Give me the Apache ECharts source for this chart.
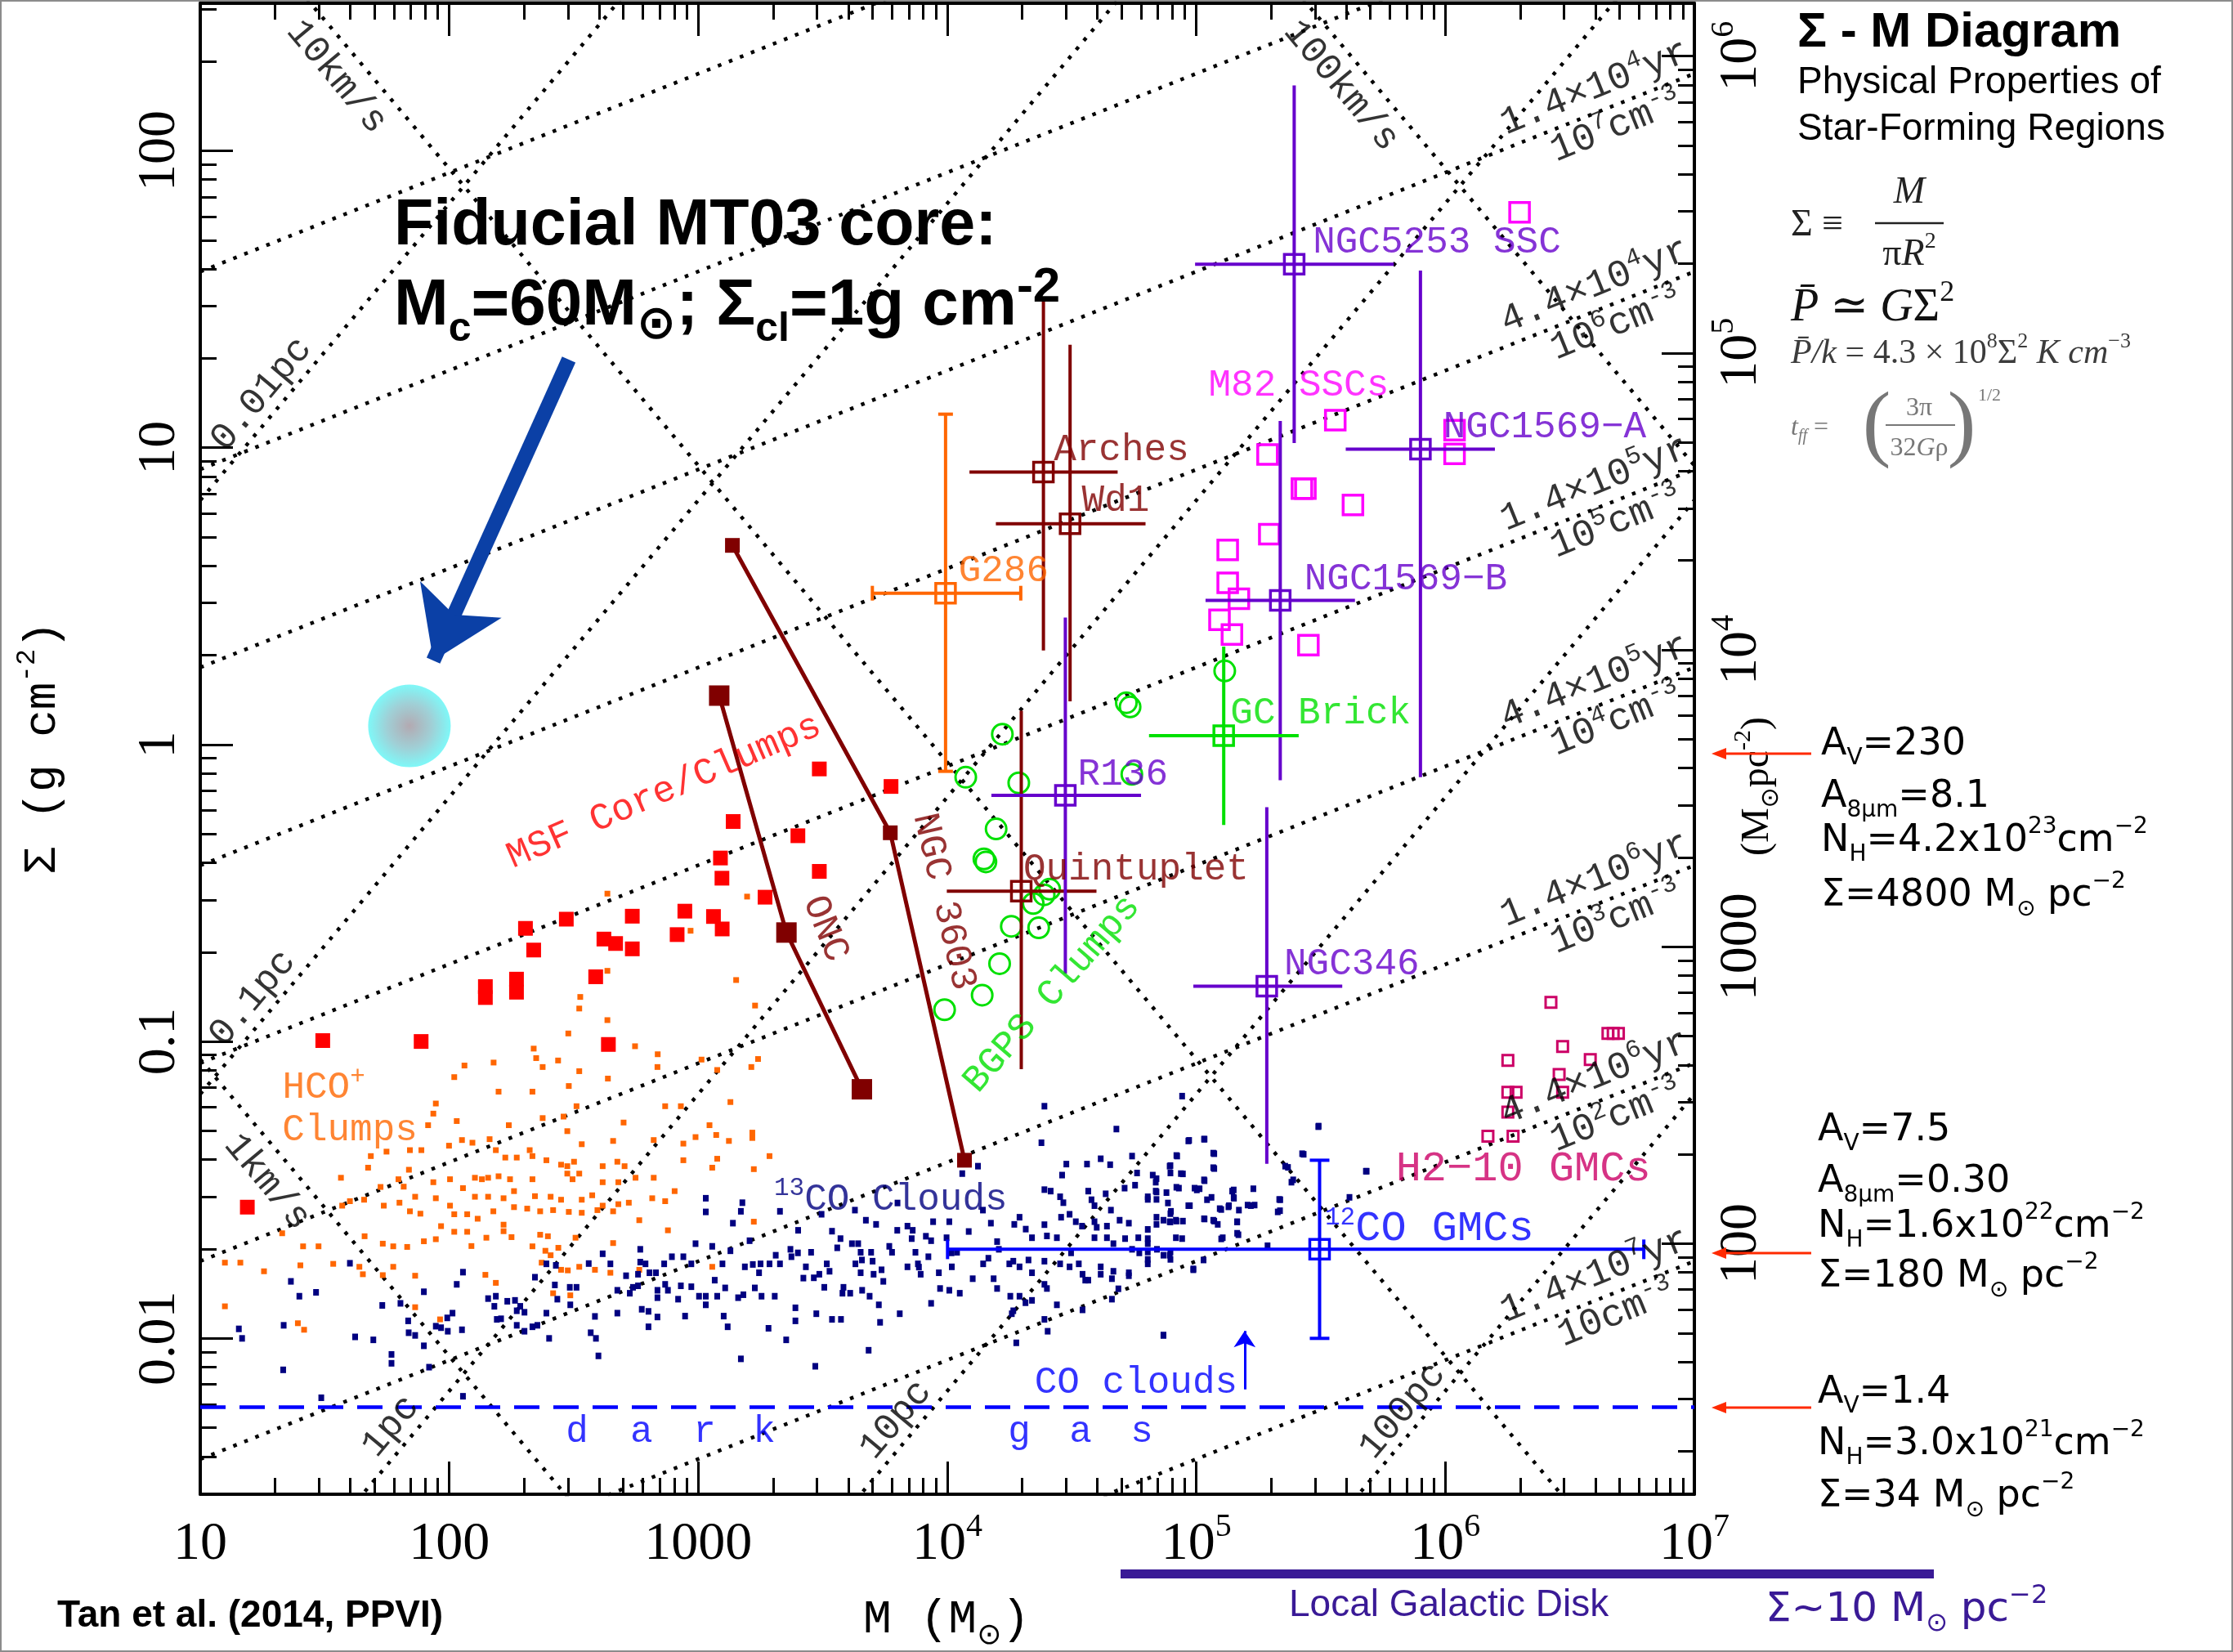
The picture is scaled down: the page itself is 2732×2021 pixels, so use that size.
<!DOCTYPE html>
<html>
<head>
<meta charset="utf-8">
<title>Sigma - M Diagram</title>
<script src="https://cdn.jsdelivr.net/npm/echarts@6.0.0/dist/echarts.min.js"></script>
<style>
  html, body { margin: 0; padding: 0; background: #fff; }
  #chart { width: 2732px; height: 2021px; }
</style>
</head>
<body>
<div id="chart"></div>
<script>
// every position is in log10 units:  x = log10(M / Msun),  y = log10(Sigma / g cm^-2)

// ---------- axes ----------
const massTicks = [1, 2, 3, 4, 5, 6, 7];
const massTickLabels = ['10', '100', '1000', '10{s|4}', '10{s|5}', '10{s|6}', '10{s|7}'];
const sigmaTicks = [-2, -1, 0, 1, 2];
const sigmaTickLabels = ['0.01', '0.1', '1', '10', '100'];
const surfTicks = [2, 3, 4, 5, 6];                 // log10(Msun pc^-2)
const surfTickLabels = ['100', '1000', '10{s|4}', '10{s|5}', '10{s|6}'];
const logMsunPc2PerGcm2 = 3.681;                   // 1 g cm^-2 = 4800 Msun pc^-2
const xRange = [1, 7];
const yRange = [-2.525, 2.497];

// ---------- dotted guide lines (end points) ----------
const radiusLines = [
  [[1, 0.823], [3.7, 3.523]], [[1, -1.177], [4.7, 2.523]], [[1.6, -2.577], [7, 2.823]],
  [[3.6, -2.577], [7, 0.823]], [[5.6, -2.577], [7, -1.177]]
];
const velocityLines = [
  [[1, -1.06], [2.6, -2.66]], [[1, 2.94], [6.6, -2.66]], [[5, 2.94], [7, 0.94]]
];
const densityLines = [   // n_H = 1e9 ... 10 cm^-3
  [[1, 1.593], [4, 2.593]], [[1, 0.927], [7, 2.927]],
  [[1, 0.260], [7, 2.260]], [[1, -0.407], [7, 1.593]], [[1, -1.073], [7, 0.927]],
  [[1, -1.740], [7, 0.260]], [[1, -2.407], [7, -0.407]], [[1, -3.073], [7, -1.073]],
  [[1, -3.740], [7, -1.740]]
];
const radiusNames = ['0.01pc', '0.1pc', '1pc', '10pc', '100pc'];
const velocityNames = ['1km/s', '10km/s', '100km/s'];
const freefallNames = ['1.4×10{s|4}yr', '4.4×10{s|4}yr', '1.4×10{s|5}yr', '4.4×10{s|5}yr', '1.4×10{s|6}yr', '4.4×10{s|6}yr', '1.4×10{s|7}yr'];
const densityNames = ['10{s|7}cm{s|-3}', '10{s|6}cm{s|-3}', '10{s|5}cm{s|-3}', '10{s|4}cm{s|-3}', '10{s|3}cm{s|-3}', '10{s|2}cm{s|-3}', '10cm{s|-3}'];
const darkGasLevel = -2.23;

// ---------- point samples ----------
const msfClumps = [
  [3.140,-0.259],[3.089,-0.382],[3.095,-0.450],[3.268,-0.514],[2.470,-0.588],[2.306,-0.619],[2.735,-0.578],
  [2.946,-0.561],[3.061,-0.579],[3.096,-0.621],[2.915,-0.640],[2.621,-0.655],[2.668,-0.670],[2.735,-0.688],
  [2.339,-0.692],[2.588,-0.782],[2.270,-0.790],[2.145,-0.815],[2.145,-0.852],[2.270,-0.834],[2.639,-1.010],
  [1.492,-0.997],[1.887,-1.000],[1.189,-1.558],[3.486,-0.082],[3.774,-0.141],[3.400,-0.307],[3.486,-0.427]
];
const hcoClumps = [
  [2.635,-0.502],[3.196,-0.512],[2.969,-0.627],[2.635,-0.762],[3.152,-0.793],[2.526,-0.850],[2.522,-0.889],
  [2.635,-0.928],[3.228,-0.879],[2.478,-0.973],[2.339,-1.024],[2.746,-1.016],[2.837,-1.043],[2.349,-1.056],
  [2.437,-1.064],[3.013,-1.061],[2.178,-1.071],[3.240,-1.059],
  [2.061,-1.081],[2.375,-1.086],[2.522,-1.100],[2.637,-1.125],[2.836,-1.086],[3.076,-1.096],[3.213,-1.086],
  [2.020,-1.120],[2.480,-1.150],[2.198,-1.169],[2.334,-1.169],[1.946,-1.209],[2.867,-1.218],[2.930,-1.218],
  [3.129,-1.204],[2.511,-1.218],[2.375,-1.258],[2.459,-1.253],[1.936,-1.243],[2.239,-1.282],[2.030,-1.268],
  [1.915,-1.282],[2.700,-1.273],[3.045,-1.282],[2.474,-1.302],[2.658,-1.335],[2.532,-1.346],[2.821,-1.332],
  [2.940,-1.344],[2.989,-1.322],[3.072,-1.315],[3.123,-1.335],[3.217,-1.307],[3.217,-1.325],[1.748,-1.371],
  [1.685,-1.386],[1.842,-1.366],[1.888,-1.366],[1.999,-1.351],[2.051,-1.332],[2.093,-1.341],[2.162,-1.329],
  [2.187,-1.366],[2.225,-1.391],[2.271,-1.391],[2.323,-1.366],[2.334,-1.386],[2.390,-1.400],[2.449,-1.415],
  [2.474,-1.420],[2.501,-1.405],[2.616,-1.420],[2.675,-1.405],[2.704,-1.420],[2.940,-1.400],[3.076,-1.395],
  [3.286,-1.386],[1.565,-1.459],[1.674,-1.425],[1.724,-1.490],[1.796,-1.464],[1.817,-1.489],[1.838,-1.432],
  [1.936,-1.474],[2.003,-1.464],[2.055,-1.494],[2.103,-1.459],[2.131,-1.464],[2.156,-1.459],[2.198,-1.454],
  [2.244,-1.464],[2.334,-1.464],[2.474,-1.445],[2.495,-1.464],[2.522,-1.445],[2.616,-1.474],[2.679,-1.474],
  [2.748,-1.459],[2.821,-1.459],[2.905,-1.504],[3.056,-1.425],[3.223,-1.430],[1.601,-1.538],[1.658,-1.533],
  [1.737,-1.553],[1.800,-1.543],[1.863,-1.523],[1.946,-1.528],[2.003,-1.553],[2.103,-1.523],[2.156,-1.523],
  [2.218,-1.528],[2.260,-1.504],[2.344,-1.521],[2.407,-1.523],[2.449,-1.533],[2.532,-1.533],[2.574,-1.518],
  [2.616,-1.553],[2.679,-1.548],[2.721,-1.543],[2.815,-1.528],[2.867,-1.538],[1.570,-1.553],[1.842,-1.572],
  [1.884,-1.580],[2.020,-1.582],[2.072,-1.582],[2.114,-1.597],[2.177,-1.572],[2.218,-1.617],[2.260,-1.558],
  [2.313,-1.563],[2.365,-1.572],[2.417,-1.568],[2.480,-1.574],[2.532,-1.577],[2.595,-1.568],[2.658,-1.572],
  [2.763,-1.602],[2.878,-1.636],[3.223,-1.607],[1.329,-1.646],[1.413,-1.690],[1.475,-1.690],[1.660,-1.656],
  [1.733,-1.681],[1.775,-1.690],[1.831,-1.692],[1.898,-1.673],[1.946,-1.666],[1.967,-1.622],[2.020,-1.641],
  [2.072,-1.641],[2.089,-1.689],[2.149,-1.661],[2.218,-1.639],[2.250,-1.659],[2.365,-1.651],[2.396,-1.656],
  [2.334,-1.690],[2.386,-1.705],[2.407,-1.720],[2.438,-1.695],[2.507,-1.661],[2.658,-1.679],[1.099,-1.745],
  [1.161,-1.745],[1.256,-1.774],[1.402,-1.754],[1.534,-1.749],[1.639,-1.759],[1.653,-1.784],[1.733,-1.787],
  [1.775,-1.759],[1.863,-1.789],[2.145,-1.786],[2.187,-1.813],[2.371,-1.745],[2.449,-1.769],[2.476,-1.771],
  [2.522,-1.759],[2.585,-1.769],[2.647,-1.779],[2.417,-1.848],[2.486,-1.855],[2.763,-1.769],[3.056,-1.759],
  [1.863,-1.895],[1.099,-1.892],[1.392,-1.949],[1.417,-1.971],[1.963,-1.936]
];
const co13Clouds = [
  [1.601,-1.747],[1.364,-1.808],[1.398,-1.858],[1.465,-1.845],[1.155,-1.968],[1.168,-2.000],[1.335,-1.956],
  [1.333,-2.106],[1.486,-2.200],[1.622,-1.995],[1.695,-2.005],[1.768,-2.054],[1.768,-2.084],[1.731,-1.889],
  [1.804,-1.882],[1.835,-1.941],[1.837,-1.981],[1.863,-1.990],[1.898,-2.025],[1.898,-1.843],[1.946,-1.959],
  [1.967,-1.964],[1.992,-1.931],[2.013,-1.915],[1.994,-1.976],[2.051,-1.971],[2.055,-1.777],[2.030,-1.818],
  [1.919,-2.097],[2.055,-2.195],[2.156,-1.866],[2.181,-1.892],[2.187,-1.858],[2.191,-1.936],[2.208,-1.934],
  [2.233,-1.875],[2.264,-1.872],[2.271,-1.956],[2.271,-1.907],[2.285,-1.892],[2.302,-1.976],[2.302,-1.912],
  [2.334,-1.961],[2.354,-1.956],[2.390,-1.915],[2.401,-2.000],[2.344,-1.794],[2.390,-1.749],[2.428,-1.754],
  [2.424,-1.820],[2.434,-1.868],[2.484,-1.828],[2.486,-1.887],[2.511,-1.828],[2.560,-1.748],[2.568,-1.981],
  [2.589,-2.000],[2.599,-2.059],[2.585,-1.926],[2.616,-1.715],[2.647,-1.749],[2.675,-1.838],[2.675,-1.915],
  [2.710,-1.789],[2.725,-1.848],[2.738,-1.828],[2.758,-1.823],[2.758,-1.784],[2.767,-1.743],[2.767,-1.700],
  [2.773,-1.902],[2.788,-1.749],[2.800,-1.909],[2.800,-1.961],[2.804,-1.779],[2.830,-1.779],[2.836,-1.838],
  [2.836,-1.863],[2.836,-1.928],[2.863,-1.749],[2.867,-1.818],[2.878,-1.838],[2.894,-1.725],[2.919,-1.868],
  [2.930,-1.823],[2.940,-1.725],[2.947,-1.925],[2.972,-1.826],[2.989,-1.681],[2.972,-1.749],[3.003,-1.858],
  [3.030,-1.858],[3.030,-1.887],[3.030,-1.574],[3.030,-1.528],[3.056,-1.690],[3.066,-1.804],[3.076,-1.858],
  [3.097,-1.749],[3.102,-1.925],[3.108,-1.830],[3.118,-1.961],[3.129,-1.705],[3.139,-1.612],[3.160,-1.863],
  [3.171,-1.572],[3.171,-2.069],[3.177,-1.543],[3.181,-1.853],[3.187,-1.759],[3.206,-1.671],[3.219,-1.751],
  [3.227,-1.830],[3.244,-1.779],[3.250,-1.749],[3.254,-1.858],[3.282,-1.966],[3.286,-1.749],[3.307,-1.858],
  [3.311,-1.720],[3.328,-1.749],[3.328,-1.572],[3.353,-2.005],[3.370,-1.700],[3.374,-1.725],[3.390,-1.897],
  [3.401,-1.636],[3.390,-1.941],[3.422,-1.797],[3.432,-1.759],[3.453,-1.710],[3.464,-1.796],[3.474,-1.917],
  [3.470,-2.094],[3.495,-1.582],[3.506,-1.828],[3.516,-1.749],[3.527,-1.774],[3.537,-1.639],[3.537,-1.936],
  [3.558,-1.695],[3.573,-1.936],[3.579,-1.848],[3.583,-1.828],[3.610,-1.848],[3.617,-1.681],[3.631,-1.749],
  [3.642,-1.681],[3.652,-1.710],[3.652,-1.779],[3.658,-1.838],[3.673,-1.602],[3.684,-2.040],[3.688,-1.858],
  [3.694,-1.710],[3.700,-1.740],[3.704,-1.784],[3.725,-1.887],[3.730,-1.946],[3.736,-1.769],[3.767,-1.690],
  [3.778,-1.710],[3.799,-1.636],[3.809,-1.917],[3.840,-1.622],[3.840,-1.759],[3.861,-1.636],[3.872,-1.710],
  [3.882,-1.749],[3.893,-1.784],[3.914,-1.656],[3.924,-1.725],[3.935,-1.882],[3.935,-1.671],[3.966,-1.779],
  [3.997,-1.661],[4.008,-1.607],[4.008,-1.838],[4.018,-1.759],[4.039,-1.710],[4.050,-1.848],[4.060,-1.445],
  [4.102,-1.799],[4.123,-1.420],[4.144,-1.749],[4.165,-1.730],[4.175,-1.612],[4.186,-1.799],[4.207,-1.700],
  [4.249,-1.749],[4.253,-1.858],[4.259,-1.917],
  [4.943,-1.184],[4.390,-1.218],[4.679,-1.295],[4.378,-1.341],[4.968,-1.335],[5.031,-1.329],[5.490,-1.287],
  [5.425,-1.378],[5.684,-1.437],[4.478,-1.413],[4.561,-1.413],[4.616,-1.395],[4.654,-1.415],[4.742,-1.386],
  [4.762,-1.443],[4.825,-1.450],[4.893,-1.420],[4.923,-1.386],[4.938,-1.445],[5.068,-1.376],[5.068,-1.425],
  [5.031,-1.466],[4.461,-1.450],[4.390,-1.499],[4.415,-1.504],[4.453,-1.523],[4.466,-1.543],[4.566,-1.504],
  [4.579,-1.533],[4.591,-1.553],[4.636,-1.513],[4.712,-1.494],[4.754,-1.484],[4.805,-1.523],[4.837,-1.474],
  [4.837,-1.504],[4.880,-1.509],[4.898,-1.572],[4.918,-1.602],[4.930,-1.494],[4.968,-1.553],[4.993,-1.494],
  [5.043,-1.533],[5.094,-1.563],[5.144,-1.504],[5.151,-1.528],[5.131,-1.553],[5.219,-1.553],[5.337,-1.533],
  [5.327,-1.574],[5.357,-1.420],[5.382,-1.474],[4.491,-1.582],[4.516,-1.607],[4.541,-1.622],[4.591,-1.607],
  [4.641,-1.622],[4.692,-1.602],[4.729,-1.612],[4.767,-1.661],[4.805,-1.681],[4.868,-1.602],[4.893,-1.607],
  [4.918,-1.661],[5.031,-1.597],[5.068,-1.602],[5.106,-1.661],[5.169,-1.651],[5.164,-1.607],[4.290,-1.592],
  [4.315,-1.632],[4.340,-1.661],[4.390,-1.617],[4.440,-1.661],[4.591,-1.661],[4.641,-1.661],[4.667,-1.681],
  [4.742,-1.700],[4.842,-1.700],[4.893,-1.720],[4.265,-1.740],[4.290,-1.759],[4.340,-1.779],[4.390,-1.740],
  [4.453,-1.749],[4.491,-1.759],[4.528,-1.749],[4.616,-1.759],[4.667,-1.774],[4.729,-1.779],[4.805,-1.749],
  [4.868,-1.720],[4.390,-1.818],[4.566,-1.804],[4.616,-1.784],[4.661,-1.799],[4.729,-1.789],[4.290,-1.858],
  [4.265,-1.907],[4.340,-1.872],[4.440,-1.887],[4.390,-1.936],[4.403,-1.976],[4.554,-1.804],[4.661,-1.868],
  [4.687,-1.833],[4.868,-1.990],[4.988,-1.769],[4.277,-2.015],
  [4.971,-1.333],[5.033,-1.329],[5.072,-1.378],[4.920,-1.384],[4.896,-1.418],[4.896,-1.443],[4.946,-1.446],
  [4.840,-1.462],[5.072,-1.428],[4.805,-1.532],[4.840,-1.507],[4.840,-1.532],[4.920,-1.491],[5.002,-1.500],
  [5.013,-1.496],[5.033,-1.469],[4.974,-1.553],[5.061,-1.525],[5.100,-1.566],[5.129,-1.557],[5.150,-1.500],
  [5.150,-1.525],[5.164,-1.608],[5.206,-1.551],[5.234,-1.551],[5.333,-1.532],[5.336,-1.570],[5.431,-1.380],
  [5.368,-1.424],[5.389,-1.466],[5.491,-1.285],[5.681,-1.437],[5.615,-1.525],[4.805,-1.633],[4.805,-1.664],
  [4.840,-1.592],[4.896,-1.580],[4.896,-1.608],[4.920,-1.605],[4.946,-1.605],[5.033,-1.598],[5.072,-1.605],
  [5.100,-1.665],[5.164,-1.646],[4.805,-1.734],[4.805,-1.709],[4.896,-1.709],[4.896,-1.734],[4.988,-1.766],
  [4.868,-1.989],
  [3.629,-1.568],[3.714,-1.616],[3.800,-1.544],[3.857,-1.664],[3.943,-1.607],[4.017,-1.712],[4.086,-1.640],
  [4.143,-1.568],[4.200,-1.674],[4.269,-1.616],[4.326,-1.736],[4.400,-1.655],[4.457,-1.592],[4.497,-1.712],
  [4.543,-1.784],[4.600,-1.626],[4.657,-1.568],[4.714,-1.664],[4.771,-1.712],[4.840,-1.616],[4.886,-1.544],
  [4.943,-1.664],[5.029,-1.736],[5.086,-1.616],[5.171,-1.568],[5.229,-1.496],[5.286,-1.688],[3.400,-1.712],
  [3.486,-1.784],[3.571,-1.664],[3.657,-1.736],[3.743,-1.808],[3.886,-1.760],[3.971,-1.832],[4.200,-1.832],
  [4.314,-1.880],[4.400,-1.832],[4.543,-1.904]
];
const bgpsClumps = [
  [5.114,0.248],[4.719,0.141],[4.734,0.127],[4.221,0.035],[4.074,-0.110],[4.287,-0.129],[4.741,-0.100],
  [4.196,-0.284],[4.147,-0.385],[4.155,-0.395],[4.411,-0.487],[4.389,-0.506],[4.345,-0.535],[4.257,-0.612],
  [4.367,-0.617],[4.210,-0.738],[4.140,-0.844],[3.989,-0.893]
];
const m82Sscs = [
  [6.298,1.793],[5.558,1.093],[5.286,0.977],[6.037,0.979],[6.037,1.059],[5.424,0.862],[5.438,0.862],
  [5.629,0.807],[5.293,0.709],[5.126,0.656],[5.126,0.545],[5.171,0.491],[5.093,0.420],[5.143,0.371],[5.450,0.335]
];
const h210Gmcs = [
  [6.424,-0.868],[6.251,-1.064],[6.471,-1.017],[6.582,-1.061],[6.457,-1.111],[6.471,-1.171],[6.251,-1.171],
  [6.284,-1.171],[6.251,-1.238],[6.171,-1.319],[6.272,-1.319],[6.653,-0.973],[6.674,-0.973],[6.695,-0.973]
];
const oncTrack = [[3.084, 0.165], [3.354, -0.633], [3.657, -1.161]];
const ngc3603Track = [[3.137, 0.671], [3.771, -0.297], [4.069, -1.400]];
const fiducialCore = [[1.840, 0.063]];

// ---------- objects with ranges: [x, y, xLow, xHigh, yLow, yHigh] ----------
const youngClusters = [   // Arches, Wd1, Quintuplet
  [4.386, 0.918, 4.089, 4.684, 0.317, 1.503],
  [4.493, 0.744, 4.195, 4.796, 0.146, 1.347],
  [4.297, -0.494, 3.998, 4.599, -1.093, 0.114]
];
const g286 = [[3.993, 0.510, 3.699, 4.295, -0.090, 1.113]];
const extragalactic = [   // NGC5253 SSC, NGC1569-A, NGC1569-B, R136, NGC346
  [5.393, 1.618, 4.995, 5.793, 1.016, 2.220],
  [5.900, 0.995, 5.600, 6.199, -0.110, 1.597],
  [5.337, 0.486, 5.037, 5.637, -0.120, 1.090],
  [4.474, -0.171, 4.177, 4.778, -0.772, 0.428],
  [5.283, -0.814, 4.988, 5.586, -1.412, -0.211]
];
const gcBrick = [[5.110, 0.030, 4.810, 5.411, -0.271, 0.330]];
const co12Gmcs = [[5.495, -1.700, 4.001, 6.797, -2.000, -1.400]];

// ---------- styling ----------
const MONO = '"Liberation Mono", "DejaVu Sans Mono", monospace';
const SERIF = '"Liberation Serif", "DejaVu Serif", serif';
const SANS = '"Liberation Sans", Arial, sans-serif';
const DJV = '"DejaVu Sans", sans-serif';
const C = {
  msf: '#ff0000', hco: '#ff6600', co13: '#000080', dred: '#800000', purple: '#6600cc',
  magenta: '#ff00ff', h210: '#cc0066', green: '#00e000', blue: '#0000ff', arrow: '#0b40a6', disk: '#3a1a96'
};
const G = { left: 245, top: 4, width: 1828, height: 1824 };

function minorTicks(lo, hi, shift) {
  const out = [];
  for (let d = Math.floor(lo - shift) - 1; d <= Math.ceil(hi - shift); d++) {
    for (let k = 2; k <= 9; k++) {
      const v = d + Math.log10(k) + shift;
      if (v > lo && v < hi) out.push(v);
    }
  }
  return out;
}

const tickLine = { color: '#000', width: 3 };
function axisPart(dim, position, values, len, withLine, label) {
  const range = dim === 'x' ? xRange : yRange;
  return {
    type: 'value', position: position, min: range[0], max: range[1],
    splitLine: { show: false },
    axisLine: { show: withLine, onZero: false, lineStyle: { color: '#000', width: 4 } },
    axisTick: { show: true, inside: true, length: len, customValues: values, lineStyle: tickLine },
    axisLabel: label || { show: false }
  };
}
const supRich = { s: { fontSize: 40, fontFamily: SERIF, verticalAlign: 'top', lineHeight: 44 } };
const xLabel = {
  show: true, customValues: massTicks, margin: 20, fontSize: 66, fontFamily: SERIF, color: '#000', lineHeight: 84,
  rich: supRich, formatter: v => massTickLabels[massTicks.indexOf(Math.round(v))]
};
const yLabel = {
  show: true, customValues: sigmaTicks, margin: 16, rotate: 90, fontSize: 66, fontFamily: SERIF, color: '#000',
  formatter: v => sigmaTickLabels[sigmaTicks.indexOf(Math.round(v))]
};
const surfMajor = surfTicks.map(e => e - logMsunPc2PerGcm2);
const rLabel = {
  show: true, customValues: surfMajor, margin: 16, rotate: 90, fontSize: 66, fontFamily: SERIF, color: '#000',
  lineHeight: 84, rich: supRich,
  formatter: v => surfTickLabels[surfTicks.indexOf(Math.round(v + logMsunPc2PerGcm2))]
};
const minorX = minorTicks(xRange[0], xRange[1], 0);
const minorY = minorTicks(yRange[0], yRange[1], 0);
const minorR = minorTicks(yRange[0], yRange[1], -logMsunPc2PerGcm2);

// ---------- series helpers ----------
function guideLines(segments) {
  return segments.map(s => ({ coords: s }));
}
function errorSeries(data, color, cap) {
  return {
    type: 'custom', coordinateSystem: 'cartesian2d', data: data, silent: true, clip: true, z: 4,
    itemStyle: { color: color },
    renderItem: function (params, api) {
      const x = api.value(0), y = api.value(1);
      const c = api.coord([x, y]);
      const l = api.coord([api.value(2), y]), r = api.coord([api.value(3), y]);
      const b = api.coord([x, api.value(4)]), t = api.coord([x, api.value(5)]);
      const st = { stroke: color, lineWidth: 4, fill: null };
      const kids = [
        { type: 'line', shape: { x1: l[0], y1: l[1], x2: r[0], y2: r[1] }, style: st },
        { type: 'line', shape: { x1: b[0], y1: b[1], x2: t[0], y2: t[1] }, style: st },
        { type: 'rect', shape: { x: c[0] - 12, y: c[1] - 12, width: 24, height: 24 }, style: { stroke: color, lineWidth: 3.5, fill: null } }
      ];
      if (cap) {
        kids.push({ type: 'line', shape: { x1: l[0], y1: l[1] - cap, x2: l[0], y2: l[1] + cap }, style: st });
        kids.push({ type: 'line', shape: { x1: r[0], y1: r[1] - cap, x2: r[0], y2: r[1] + cap }, style: st });
        kids.push({ type: 'line', shape: { x1: b[0] - cap, y1: b[1], x2: b[0] + cap, y2: b[1] }, style: st });
        kids.push({ type: 'line', shape: { x1: t[0] - cap, y1: t[1], x2: t[0] + cap, y2: t[1] }, style: st });
      }
      return { type: 'group', children: kids };
    }
  };
}
function dots(data, symbol, size, fill, border, borderWidth, z) {
  return {
    type: 'scatter', data: data, symbol: symbol, symbolSize: size, silent: true, z: z || 3,
    itemStyle: { color: fill, borderColor: border || fill, borderWidth: borderWidth || 0, opacity: 1 }
  };
}

// ---------- text placed in data coordinates ----------
const notes = [];
function note(pos, text, color, rotate, size) {
  notes.push({ value: pos, label: { formatter: text, color: color, rotate: rotate || 0, fontSize: size || 46 } });
}
const radiusLabelPos = [[1.246, 1.181], [1.21, -0.854], [1.765, -2.296], [3.793, -2.274], [5.828, -2.244]];
radiusNames.forEach((t, i) => note(radiusLabelPos[i], t, '#000', 50));
const velocityLabelPos = [[1.269, -1.473], [1.548, 2.249], [5.582, 2.219]];
velocityNames.forEach((t, i) => note(velocityLabelPos[i], t, '#000', -50));
const yrLabelY = [2.212, 1.545, 0.878, 0.212, -0.455, -1.122, -1.788];
const nLabelY = [2.082, 1.415, 0.748, 0.082, -0.585, -1.252, -1.918];
freefallNames.forEach((t, i) => note([6.600, yrLabelY[i]], t, '#000', 22, 47));
densityNames.forEach((t, i) => note([6.686, nLabelY[i]], t, '#000', 22, 47));
note([5.966, 1.690], 'NGC5253 SSC', C.purple);
note([6.399, 1.068], 'NGC1569−A', C.purple);
note([5.841, 0.556], 'NGC1569−B', C.purple);
note([4.705, -0.102], 'R136', C.purple);
note([5.624, -0.741], 'NGC346', C.purple);
note([5.411, 1.208], 'M82 SSCs', C.magenta);
note([4.699, 0.991], 'Arches', C.dred);
note([4.676, 0.821], 'Wd1', C.dred);
note([4.758, -0.421], 'Quintuplet', C.dred);
note([4.226, 0.583], 'G286', C.hco);
note([5.499, 0.105], 'GC Brick', C.green);
note([4.420, -0.840], 'BGPS Clumps', C.green, 49);
note([3.987, -0.529], 'NGC 3603', C.dred, -77);
note([3.511, -0.620], 'ONC', C.dred, -68);
note([2.863, -0.158], 'MSF Core/Clumps', C.msf, 23.5);
note([1.496, -1.157], 'HCO{s|+}', C.hco);
note([1.601, -1.300], 'Clumps', C.hco);
note([3.773, -1.533], '{s|13}CO Clouds', C.co13);
note([5.936, -1.630], '{s|12}CO GMCs', C.blue, 0, 52);
note([6.313, -1.429], 'H2−10 GMCs', C.h210, 0, 52);
note([4.758, -2.150], 'CO clouds', C.blue);
[2.513, 2.772, 3.025, 3.265].forEach((x, i) => note([x, -2.315], 'dark'[i], C.blue));
[4.289, 4.535, 4.781].forEach((x, i) => note([x, -2.315], 'gas'[i], C.blue));

// ---------- fixed-position decorations ----------
function gtext(x, y, text, style, extra) {
  return Object.assign({
    type: 'text', x: x, y: y, z: 50, silent: true,
    style: Object.assign({ text: text, fill: '#000', align: 'left', verticalAlign: 'middle' }, style)
  }, extra || {});
}
function rs(size, family, va, extra) {
  return Object.assign({ fontSize: size, fontFamily: family, verticalAlign: va, lineHeight: size + 2 }, extra || {});
}
function redArrow(y) {
  return [
    { type: 'line', z: 50, silent: true, shape: { x1: 2216, y1: y, x2: 2106, y2: y }, style: { stroke: '#ff2a00', lineWidth: 3 } },
    { type: 'polygon', z: 50, silent: true, shape: { points: [[2094, y], [2112, y - 7], [2112, y + 7]] }, style: { fill: '#ff2a00' } }
  ];
}
const blockRich = {
  sub: rs(28, DJV, 'bottom'), sup: rs(28, DJV, 'top')
};
const blockStyle = { fontSize: 46, fontFamily: DJV, lineHeight: 62, rich: blockRich };
const eqGray = '#3c3c3c';
const graphics = [
  { type: 'rect', silent: true, shape: { x: 1, y: 1, width: 2730, height: 2019 }, style: { fill: null, stroke: '#8c8c8c', lineWidth: 2 } },
  // fiducial core annotation
  gtext(482, 277, 'Fiducial MT03 core:', { fontSize: 79, fontWeight: 'bold', fontFamily: SANS }),
  gtext(482, 375, 'M{sub|c}=60M{sub2|⊙}; Σ{sub|cl}=1g cm{sup|-2}', {
    fontSize: 80, fontWeight: 'bold', fontFamily: SANS, lineHeight: 106,
    rich: { sub: rs(50, SANS, 'bottom', { fontWeight: 'bold' }), sub2: rs(58, DJV, 'bottom', { fontWeight: 'bold' }), sup: rs(60, SANS, 'top', { fontWeight: 'bold' }) }
  }),
  // title block
  gtext(2199, 40, 'Σ - M Diagram', { fontSize: 60, fontWeight: 'bold', fontFamily: SANS }),
  gtext(2199, 101, 'Physical Properties of', { fontSize: 46, fontFamily: SANS }),
  gtext(2199, 158, 'Star-Forming Regions', { fontSize: 46, fontFamily: SANS }),
  // equations
  gtext(2191, 276, 'Σ ≡', { fontSize: 46, fontFamily: SERIF, fill: '#222' }),
  gtext(2336, 236, 'M', { fontSize: 46, fontFamily: SERIF, fontStyle: 'italic', fill: '#222', align: 'center' }),
  { type: 'line', z: 50, silent: true, shape: { x1: 2294, y1: 273, x2: 2378, y2: 273 }, style: { stroke: '#222', lineWidth: 2.5 } },
  gtext(2336, 312, 'π{i|R}{sup|2}', { fontSize: 46, fontFamily: SERIF, fill: '#222', align: 'center', lineHeight: 60,
    rich: { i: rs(46, SERIF, 'middle', { fontStyle: 'italic' }), sup: rs(28, SERIF, 'top') } }),
  gtext(2191, 377, '{i|P̄} ≃ {i|G}Σ{sup|2}', { fontSize: 56, fontFamily: SERIF, fill: '#111', lineHeight: 72,
    rich: { i: rs(56, SERIF, 'middle', { fontStyle: 'italic' }), sup: rs(36, SERIF, 'top') } }),
  gtext(2191, 433, '{i|P̄/k} = 4.3 × 10{sup|8}Σ{sup|2} {i|K cm}{sup|−3}', { fontSize: 42, fontFamily: SERIF, fill: eqGray, lineHeight: 56,
    rich: { i: rs(42, SERIF, 'middle', { fontStyle: 'italic' }), sup: rs(26, SERIF, 'top') } }),
  gtext(2191, 524, '{i|t}{sub|ff} =', { fontSize: 32, fontFamily: SERIF, fill: '#777', lineHeight: 40,
    rich: { i: rs(32, SERIF, 'middle', { fontStyle: 'italic' }), sub: rs(20, SERIF, 'bottom', { fontStyle: 'italic' }) } }),
  gtext(2296, 524, '(', { fontSize: 104, fontFamily: SERIF, fill: '#777', align: 'center', fontWeight: 'lighter' }),
  gtext(2400, 524, ')', { fontSize: 104, fontFamily: SERIF, fill: '#777', align: 'center', fontWeight: 'lighter' }),
  gtext(2348, 500, '3π', { fontSize: 32, fontFamily: SERIF, fill: '#777', align: 'center' }),
  { type: 'line', z: 50, silent: true, shape: { x1: 2307, y1: 520, x2: 2392, y2: 520 }, style: { stroke: '#777', lineWidth: 2 } },
  gtext(2348, 549, '32{i|G}ρ', { fontSize: 32, fontFamily: SERIF, fill: '#777', align: 'center',
    rich: { i: rs(32, SERIF, 'middle', { fontStyle: 'italic' }) } }),
  gtext(2420, 484, '1/2', { fontSize: 22, fontFamily: SERIF, fill: '#777' }),
  // axis names
  gtext(52, 915, 'Σ (g cm{sup|-2})', { fontSize: 56, fontFamily: MONO, align: 'center', lineHeight: 72,
    rich: { sup: rs(34, MONO, 'top') } }, { rotation: Math.PI / 2 }),
  gtext(2150, 962, '(M{sub|⊙}pc{sup|-2})', { fontSize: 48, fontFamily: SERIF, align: 'center', lineHeight: 64,
    rich: { sub: rs(30, DJV, 'bottom'), sup: rs(30, SERIF, 'top') } }, { rotation: Math.PI / 2 }),
  gtext(1158, 1982, 'M (M{sub|⊙})', { fontSize: 58, fontFamily: MONO, align: 'center', lineHeight: 76,
    rich: { sub: rs(36, DJV, 'bottom') } }),
  // column density notes
  gtext(2228, 911, 'A{sub|V}=230', blockStyle),
  gtext(2228, 975, 'A{sub|8μm}=8.1', blockStyle),
  gtext(2228, 1029, 'N{sub|H}=4.2x10{sup|23}cm{sup|−2}', blockStyle),
  gtext(2228, 1096, 'Σ=4800 M{sub|⊙} pc{sup|−2}', blockStyle),
  gtext(2224, 1383, 'A{sub|V}=7.5', blockStyle),
  gtext(2224, 1446, 'A{sub|8μm}=0.30', blockStyle),
  gtext(2224, 1501, 'N{sub|H}=1.6x10{sup|22}cm{sup|−2}', blockStyle),
  gtext(2224, 1562, 'Σ=180 M{sub|⊙} pc{sup|−2}', blockStyle),
  gtext(2224, 1704, 'A{sub|V}=1.4', blockStyle),
  gtext(2224, 1767, 'N{sub|H}=3.0x10{sup|21}cm{sup|−2}', blockStyle),
  gtext(2224, 1831, 'Σ=34 M{sub|⊙} pc{sup|−2}', blockStyle),
  ...redArrow(922), ...redArrow(1533), ...redArrow(1722),
  // footer
  { type: 'rect', z: 50, silent: true, shape: { x: 1371, y: 1920, width: 995, height: 11 }, style: { fill: C.disk } },
  gtext(1577, 1964, 'Local Galactic Disk', { fontSize: 46, fontFamily: SANS, fill: C.disk }),
  gtext(2160, 1970, 'Σ~10 M{sub|⊙} pc{sup|−2}', { fontSize: 50, fontFamily: DJV, fill: C.disk, lineHeight: 66,
    rich: { sub: rs(32, DJV, 'bottom'), sup: rs(32, DJV, 'top') } }),
  gtext(70, 1977, 'Tan et al. (2014, PPVI)', { fontSize: 46, fontWeight: 'bold', fontFamily: SANS })
];

// ---------- chart ----------
const chart = echarts.init(document.getElementById('chart'));
chart.setOption({
  animation: false,
  backgroundColor: '#fff',
  grid: Object.assign({ containLabel: false, outerBoundsMode: 'none' }, G),
  xAxis: [
    axisPart('x', 'bottom', massTicks, 40, true, xLabel),
    axisPart('x', 'bottom', minorX, 20, false),
    axisPart('x', 'top', massTicks, 40, true),
    axisPart('x', 'top', minorX, 20, false)
  ],
  yAxis: [
    axisPart('y', 'left', sigmaTicks, 40, true, yLabel),
    axisPart('y', 'left', minorY, 20, false),
    axisPart('y', 'right', surfMajor, 40, true, rLabel),
    axisPart('y', 'right', minorR, 20, false)
  ],
  series: [
    {
      type: 'lines', coordinateSystem: 'cartesian2d', silent: true, clip: true, z: 1,
      data: guideLines(radiusLines.concat(velocityLines, densityLines)),
      lineStyle: { color: '#000', width: 4.5, type: [4.5, 10], opacity: 1, cap: 'butt' }
    },
    {
      type: 'lines', coordinateSystem: 'cartesian2d', silent: true, clip: true, z: 2,
      data: [{ coords: [[xRange[0], darkGasLevel], [xRange[1], darkGasLevel]] }],
      lineStyle: { color: C.blue, width: 4.5, type: [31, 17], opacity: 1 }
    },
    dots(hcoClumps, 'rect', 7, C.hco),
    dots(co13Clouds, 'rect', [7, 8], C.co13),
    dots(msfClumps, 'rect', 18, C.msf),
    dots(bgpsClumps, 'circle', 25, 'rgba(0,0,0,0)', C.green, 3),
    dots(m82Sscs, 'rect', 24, 'rgba(0,0,0,0)', C.magenta, 3.5),
    dots(h210Gmcs, 'rect', 13, 'rgba(0,0,0,0)', C.h210, 3),
    {
      type: 'scatter', data: fiducialCore, symbol: 'circle', symbolSize: 101, silent: true, z: 3,
      itemStyle: {
        color: { type: 'radial', x: 0.5, y: 0.5, r: 0.5, colorStops: [
          { offset: 0, color: '#a0949e' }, { offset: 0.55, color: '#88c4cc' }, { offset: 1, color: '#5ff6f6' }] }
      }
    },
    {
      type: 'line', data: oncTrack, symbol: 'rect', symbolSize: 25, silent: true, z: 5,
      lineStyle: { color: C.dred, width: 5 }, itemStyle: { color: C.dred }
    },
    {
      type: 'line', data: ngc3603Track, symbol: 'rect', symbolSize: 18, silent: true, z: 5,
      lineStyle: { color: C.dred, width: 5 }, itemStyle: { color: C.dred }
    },
    errorSeries(youngClusters, C.dred, 0),
    errorSeries(g286, C.hco, 9),
    errorSeries(extragalactic, C.purple, 0),
    errorSeries(gcBrick, C.green, 0),
    errorSeries(co12Gmcs, C.blue, 12),
    {
      type: 'lines', coordinateSystem: 'cartesian2d', silent: true, z: 6,
      data: [{ coords: [[2.48, 1.297], [1.936, 0.283]] }],
      symbol: ['none', 'arrow'], symbolSize: [68, 82],
      lineStyle: { color: C.arrow, width: 18, opacity: 1, cap: 'butt' }, itemStyle: { color: C.arrow }
    },
    {
      type: 'lines', coordinateSystem: 'cartesian2d', silent: true, z: 6,
      data: [{ coords: [[5.194, -2.172], [5.194, -1.975]] }],
      symbol: ['none', 'arrow'], symbolSize: [16, 20],
      lineStyle: { color: C.blue, width: 3, opacity: 1 }
    },
    {
      type: 'scatter', data: notes, symbolSize: 0, silent: true, z: 8,
      label: {
        show: true, position: 'inside', align: 'center', verticalAlign: 'middle',
        fontFamily: MONO, fontSize: 46, lineHeight: 58,
        rich: { s: { fontSize: 31, fontFamily: MONO, verticalAlign: 'top', lineHeight: 31 } }
      }
    }
  ],
  graphic: { elements: graphics }
});
</script>
</body>
</html>
